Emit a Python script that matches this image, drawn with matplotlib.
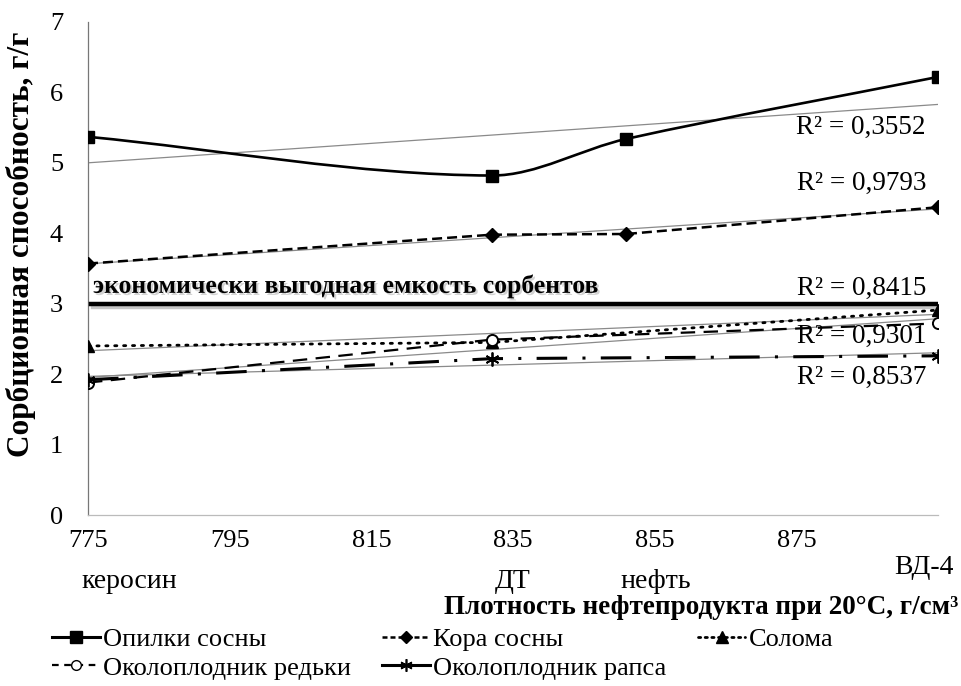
import numpy as np
import matplotlib
matplotlib.use("Agg")
import matplotlib.pyplot as plt
from matplotlib.path import Path
from matplotlib.patches import PathPatch
from matplotlib.lines import Line2D
import matplotlib.patheffects as pe

plt.rcParams['font.family'] = ['Liberation Serif', 'DejaVu Serif']

# ---------------- data ----------------
density_all = [775, 832, 851, 895]          # керосин, ДТ, нефть, ВД-4
density_3 = [775, 832, 895]                 # керосин, ДТ, ВД-4
products = ["керосин", "ДТ", "нефть", "ВД-4"]

opilki = [5.37, 4.82, 5.34, 6.22]           # Опилки сосны
kora = [3.57, 3.98, 3.99, 4.37]             # Кора сосны
soloma = [2.40, 2.45, 2.91]                 # Солома
redka = [1.88, 2.49, 2.72]                  # Околоплодник редьки
raps = [1.92, 2.22, 2.26]                   # Околоплодник рапса

r2_labels = ["R² = 0,3552", "R² = 0,9793", "R² = 0,8415", "R² = 0,9301", "R² = 0,8537"]
r2_y = [5.51, 4.71, 3.22, 2.53, 1.95]

threshold = 3.0
threshold_text = "экономически выгодная емкость сорбентов"

xticks = [775, 795, 815, 835, 855, 875]
yticks = [0, 1, 2, 3, 4, 5, 6, 7]

# ---------------- figure ----------------
W, H = 961, 686
fig = plt.figure(figsize=(W / 100, H / 100), dpi=100)
ax = fig.add_axes([88 / W, 1 - 515 / H, (938 - 88) / W, (515 - 22) / H])
ax.set_xlim(775, 895)
ax.set_ylim(0, 7)

for s in ["top", "right"]:
    ax.spines[s].set_visible(False)
ax.spines["left"].set_color("#777777")
ax.spines["left"].set_linewidth(0.9)
ax.spines["bottom"].set_color("#bbbbbb")
ax.spines["bottom"].set_linewidth(0.9)
ax.set_xticks(xticks)
ax.set_yticks(yticks)
ax.tick_params(axis="both", length=0, labelsize=19)
ax.tick_params(axis="y", pad=18)
ax.tick_params(axis="x", pad=11)

trend_kw = dict(color="#8a8a8a", lw=0.9, zorder=2)
xx = np.array([775, 895])


def trend(x, y):
    k, b = np.polyfit(x, y, 1)
    ax.plot(xx, k * xx + b, **trend_kw)


# --- Опилки сосны: smoothed curve (cubic Hermite -> Bezier) ---
px = np.array(density_all, float)
py = np.array(opilki, float)
n = len(px)
slopes = np.empty(n)
slopes[0] = (py[1] - py[0]) / (px[1] - px[0])
slopes[-1] = (py[-1] - py[-2]) / (px[-1] - px[-2])
for i in range(1, n - 1):
    slopes[i] = (py[i + 1] - py[i - 1]) / (px[i + 1] - px[i - 1])
verts = [(px[0], py[0])]
codes = [Path.MOVETO]
for i in range(n - 1):
    h = (px[i + 1] - px[i]) / 3
    verts += [(px[i] + h, py[i] + slopes[i] * h),
              (px[i + 1] - h, py[i + 1] - slopes[i + 1] * h),
              (px[i + 1], py[i + 1])]
    codes += [Path.CURVE4] * 3
ax.add_patch(PathPatch(Path(verts, codes), facecolor="none", edgecolor="black",
                       lw=1.9, zorder=4))
ax.plot(density_all, opilki, ls="none", marker="s", ms=9, color="black", zorder=5)
trend(density_all, opilki)

# --- Кора сосны ---
ax.plot(density_all, kora, color="black", lw=1.8, ls=(0, (4, 2)), marker="D",
        ms=7, zorder=4)
trend(density_all, kora)

# --- threshold line ---
ax.axhline(threshold, xmin=0.004, xmax=1, color="black", lw=3.2, zorder=3,
           path_effects=[pe.SimpleLineShadow(offset=(1, -2.5), shadow_color="gray",
                                             alpha=0.45), pe.Normal()])
ax.text(775.7, 3.25, threshold_text, fontsize=18.5, fontweight="bold",
        ha="left", va="center", zorder=6,
        path_effects=[pe.withSimplePatchShadow(offset=(1.5, -1.5),
                                               shadow_rgbFace="gray", alpha=0.35)])

# --- Солома ---
ax.plot(density_3, soloma, color="black", lw=2.0, ls=(0, (0.8, 2.4)),
        dash_capstyle="round", marker="^", ms=9, zorder=4)
trend(density_3, soloma)

# --- Околоплодник редьки ---
ax.plot(density_3, redka, color="black", lw=1.6, ls=(0, (6.5, 3.8)),
        marker="o", ms=8, mfc="white", mec="black", mew=1.4, zorder=4)
trend(density_3, redka)

# --- Околоплодник рапса ---
ax.plot(density_3, raps, color="black", lw=2.2, ls=(0, (10, 5, 1, 5)),
        marker=(6, 2, 0), ms=10, mew=1.3, zorder=4)
trend(density_3, raps)

# --- R² labels ---
for lab, yv in zip(r2_labels, r2_y):
    ax.text(893.3, yv, lab, fontsize=19.5, ha="right", va="center", zorder=6)

# --- product names under axis ---
prod_x_px = [129, 513, 656, 924]
prod_y_px = [582, 582, 582, 568]
for name, pxx, pyy in zip(products, prod_x_px, prod_y_px):
    fig.text(pxx / W, 1 - pyy / H, name, fontsize=20, ha="center", va="center")

# --- axis labels ---
fig.text(958 / W, 1 - 607 / H, "Плотность нефтепродукта при 20°С, г/см³",
         fontsize=19.5, fontweight="bold", ha="right", va="center")
ax.set_ylabel("Сорбционная способность, г/г", fontsize=22.5, fontweight="bold")
ax.yaxis.set_label_coords(-0.061, 0.55)

# --- legend ---
h_op = Line2D([], [], color="black", lw=2.2, marker="s", ms=8)
h_ko = Line2D([], [], color="black", lw=1.8, ls=(0, (2, 1.2)), marker="D", ms=6)
h_so = Line2D([], [], color="black", lw=2.0, ls=(0, (0.8, 1.6)), dash_capstyle="round",
              marker="^", ms=8)
h_re = Line2D([], [], color="black", lw=1.6, ls=(0, (3, 2.5)), marker="o", ms=7,
              mfc="white", mec="black")
h_ra = Line2D([], [], color="black", lw=2.2, ls="-", marker=(6, 2, 0), ms=9, mew=1.2)
handles = [h_op, h_re, h_ko, h_ra, h_so]
labels = ["Опилки сосны", "Околоплодник редьки", "Кора сосны",
          "Околоплодник рапса", "Солома"]
fig.legend(handles, labels, ncol=3, loc="upper left",
           bbox_to_anchor=(52 / W, 1 - 628 / H), frameon=False, fontsize=19,
           handlelength=1.8, handletextpad=0.12, columnspacing=1.2,
           labelspacing=0.18, borderpad=0, borderaxespad=0)

fig.savefig("out.png", dpi=100)
